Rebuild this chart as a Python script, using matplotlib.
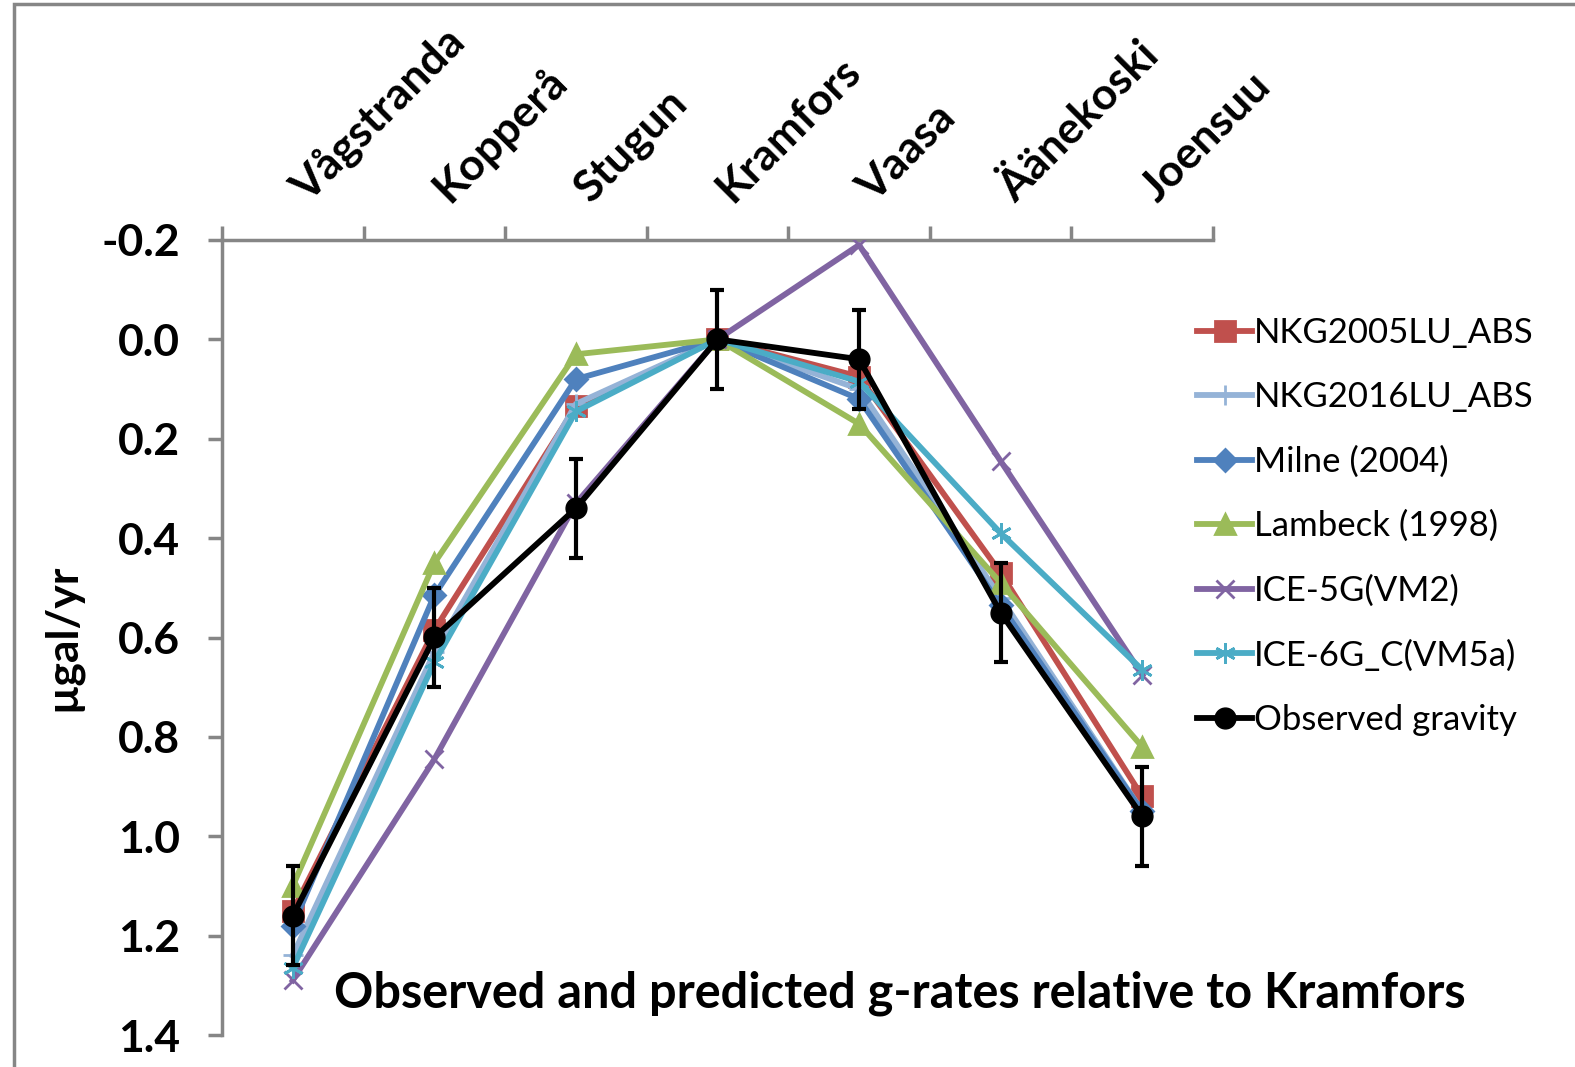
import matplotlib
matplotlib.use('Agg')
import matplotlib.pyplot as plt
from matplotlib.patches import Rectangle
from matplotlib.transforms import ScaledTranslation
import numpy as np

plt.rcParams['font.family'] = ['Lato', 'DejaVu Sans']

stations = ['Vågstranda', 'Kopperå', 'Stugun', 'Kramfors', 'Vaasa', 'Äänekoski', 'Joensuu']

nkg2005 = [1.15, 0.585, 0.135, 0.0, 0.075, 0.47, 0.92]
nkg2016 = [1.24, 0.63, 0.13, 0.0, 0.10, 0.52, 0.95]
milne = [1.18, 0.515, 0.08, 0.0, 0.12, 0.535, 0.95]
lambeck = [1.10, 0.45, 0.03, 0.0, 0.17, 0.49, 0.82]
ice5g = [1.29, 0.845, 0.33, 0.0, -0.19, 0.245, 0.675]
ice6g = [1.265, 0.65, 0.145, 0.0, 0.085, 0.39, 0.665]
observed = [1.16, 0.60, 0.34, 0.0, 0.04, 0.55, 0.96]
observed_err = [0.1, 0.1, 0.1, 0.1, 0.1, 0.1, 0.1]

series = [
    ('NKG2005LU_ABS', nkg2005, '#C0504D', 's', 14),
    ('NKG2016LU_ABS', nkg2016, '#95B3D7', '+', 15),
    ('Milne (2004)', milne, '#4F81BD', 'D', 11),
    ('Lambeck (1998)', lambeck, '#9BBB59', '^', 14),
    ('ICE-5G(VM2)', ice5g, '#8064A2', 'x', 13),
    ('ICE-6G_C(VM5a)', ice6g, '#4BACC6', (6, 2, 0), 15),
]

fig = plt.figure(figsize=(15.75, 10.67), dpi=100)
ax = fig.add_axes([222 / 1575, 1 - 1035 / 1067, (1213 - 222) / 1575, (1035 - 240) / 1067])

x = np.arange(len(stations))
for name, vals, col, mk, ms in series:
    ax.plot(x, vals, color=col, lw=4.2, marker=mk, markersize=ms,
            markeredgewidth=2, label=name, zorder=3)

# observed values with +/- error bars (bars kept out of the legend)
ax.errorbar(x, observed, yerr=observed_err, fmt='none', ecolor='black',
            elinewidth=3, capsize=5, capthick=3, zorder=4)
ax.plot(x, observed, color='black', lw=4.2, marker='o', markersize=15,
        label='Observed gravity', zorder=5)

ax.set_xlim(-0.5, len(stations) - 0.5)
ax.set_ylim(1.4, -0.2)
yt = np.arange(-0.2, 1.41, 0.2)
ax.set_yticks(yt)
ax.set_yticklabels([f'{v:.1f}' for v in yt], fontsize=32, fontweight='bold')

ax.xaxis.tick_top()
ax.set_xticks(x)
ax.set_xticklabels(stations, rotation=45, ha='left', va='baseline',
                   rotation_mode='anchor', fontsize=32, fontweight='bold')
ax.set_xticks(np.arange(-0.5, len(stations)), minor=True)
ax.tick_params(axis='x', which='major', length=0, pad=32)
ax.tick_params(axis='x', which='minor', length=10, width=2.5, color='#868686', top=True)
ax.tick_params(axis='y', length=10, width=2.5, color='#868686', pad=20)

shift = ScaledTranslation(0.15, -0.08, fig.dpi_scale_trans)
for lbl in ax.get_xticklabels():
    lbl.set_transform(lbl.get_transform() + shift)

for s in ['right', 'bottom']:
    ax.spines[s].set_visible(False)
for s in ['top', 'left']:
    ax.spines[s].set_color('#868686')
    ax.spines[s].set_linewidth(2.5)

ax.set_ylabel('µgal/yr', fontsize=32, fontweight='bold', labelpad=14)

fig.text(900 / 1575, 1 - 993 / 1067, 'Observed and predicted g-rates relative to Kramfors',
         ha='center', va='center', fontsize=35, fontweight='bold')

fig.legend(loc='upper left', bbox_to_anchor=(1183 / 1575, 1 - 303 / 1067),
           frameon=False, fontsize=25, handlelength=1.6, handletextpad=0.05,
           labelspacing=0.93, borderaxespad=0)

fig.patches.append(Rectangle((14 / 1575, -0.2), 2, 1.2 - 4 / 1067,
                             transform=fig.transFigure, fill=False,
                             edgecolor='#868686', lw=2.5))

ax.patch.set_visible(False)
fig.savefig('out.png', dpi=100)
